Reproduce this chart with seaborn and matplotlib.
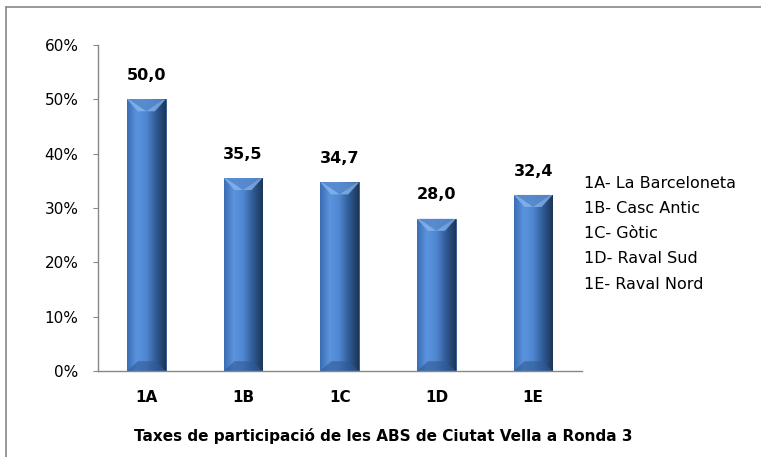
import numpy as np
import pandas as pd
import matplotlib
matplotlib.use("Agg")
import matplotlib.pyplot as plt
import seaborn as sns
from matplotlib.colors import LinearSegmentedColormap
from matplotlib.lines import Line2D

categories = ["1A", "1B", "1C", "1D", "1E"]
values = [50.0, 35.5, 34.7, 28.0, 32.4]
value_labels = ["50,0", "35,5", "34,7", "28,0", "32,4"]
legend_lines = ["1A- La Barceloneta", "1B- Casc Antic", "1C- Gòtic", "1D- Raval Sud", "1E- Raval Nord"]
yticks = [0, 10, 20, 30, 40, 50, 60]
title = "Taxes de participació de les ABS de Ciutat Vella a Ronda 3"

sns.set_style("white")
plt.rcParams['font.family'] = ['DejaVu Sans']
plt.rcParams['text.color'] = 'black'
plt.rcParams['xtick.labelcolor'] = 'black'
plt.rcParams['ytick.labelcolor'] = 'black'

df = pd.DataFrame({"cat": categories, "val": values})

W, H = 761, 457
fig = plt.figure(figsize=(W / 100, H / 100), dpi=100)
ax = fig.add_axes([98 / W, 1 - 371 / H, (581.5 - 98) / W, (371 - 45) / H])
sns.barplot(data=df, x="cat", y="val", ax=ax, color="#4a7fc8", width=0.4,
            edgecolor="#2a4f80", linewidth=0.6, saturation=1)

# gradient shading on bars
cmap = LinearSegmentedColormap.from_list("g", ["#3a6db3", "#5b94de", "#4f86cf", "#2f5a94", "#1c3557"])
grad = np.linspace(0, 1, 256).reshape(1, -1)
for p in ax.patches:
    x0, y0 = p.get_x(), p.get_y()
    w, h = p.get_width(), p.get_height()
    im = ax.imshow(grad, extent=[x0, x0 + w, y0, y0 + h], aspect="auto", cmap=cmap, zorder=p.get_zorder() + 0.1)
    im.set_clip_path(p)
    tri = plt.Polygon([[x0, h], [x0 + w, h], [x0 + w * 0.72, h - 2.2], [x0 + w * 0.28, h - 2.2]],
                      closed=True, facecolor="#8ab8f0", edgecolor="none", alpha=0.75, zorder=p.get_zorder() + 0.2)
    ax.add_patch(tri)
    v = plt.Polygon([[x0 + w * 0.05, h], [x0 + w * 0.5, h - 2.2], [x0 + w * 0.95, h]],
                    closed=True, facecolor="#3f74bd", edgecolor="none", alpha=0.6, zorder=p.get_zorder() + 0.3)
    ax.add_patch(v)
    bot = plt.Polygon([[x0, 0], [x0 + w, 0], [x0 + w * 0.72, 1.8], [x0 + w * 0.28, 1.8]],
                      closed=True, facecolor="#2f5a94", edgecolor="none", alpha=0.6, zorder=p.get_zorder() + 0.2)
    ax.add_patch(bot)

ax.set_xlim(-0.5, 4.5)
ax.set_ylim(0, 60)
ax.set_yticks(yticks)
ax.set_yticklabels([f"{t}%" for t in yticks], fontsize=11)
ax.set_xticks(range(len(categories)))
ax.set_xticklabels(categories, fontsize=11, fontweight="bold")
ax.set_xticks(np.arange(-0.5, 5.0, 1.0), minor=True)
ax.tick_params(axis="x", which="major", length=0, pad=14)
ax.tick_params(axis="x", which="minor", length=4, color="#888888", direction="out")
ax.tick_params(axis="y", length=3.6, color="#888888", direction="out", left=True, pad=10.5)
ax.set_xlabel("")
ax.set_ylabel("")
for s in ["top", "right"]:
    ax.spines[s].set_visible(False)
for s in ["left", "bottom"]:
    ax.spines[s].set_color("#888888")
    ax.spines[s].set_linewidth(1.0)

for i, (v, lab) in enumerate(zip(values, value_labels)):
    ax.text(i, v + 4.4, lab, ha="center", va="center", fontsize=11.5, fontweight="bold")

for j, line in enumerate(legend_lines):
    fig.text(584 / W, 1 - (183 + j * 25.3) / H, line, fontsize=11.5, va="center", ha="left")

fig.text(383 / W, 1 - 436 / H, title, fontsize=11, fontweight="bold", ha="center", va="center")

fig.lines.append(Line2D([6 / W, 6 / W], [0, 1 - 7 / H], transform=fig.transFigure, color="#888888", linewidth=1.2))
fig.lines.append(Line2D([6 / W, 1], [1 - 7 / H, 1 - 7 / H], transform=fig.transFigure, color="#888888", linewidth=1.2))

fig.savefig("out.png", dpi=100)
